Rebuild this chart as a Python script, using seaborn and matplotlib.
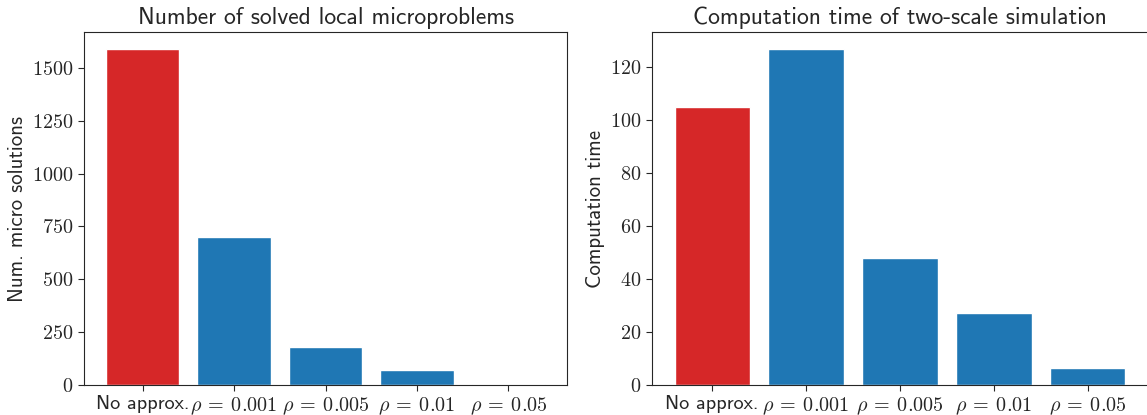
import matplotlib
matplotlib.use("Agg")
import matplotlib.pyplot as plt
import seaborn as sns
import pandas as pd
from matplotlib.ticker import FuncFormatter, MultipleLocator

categories = ["No approx.", r"$\rho\:=\:0.001$", r"$\rho\:=\:0.005$", r"$\rho\:=\:0.01$", r"$\rho\:=\:0.05$"]
num_solutions = [1590, 700, 180, 72, 5]
comp_time = [105.0, 126.8, 47.8, 27.1, 6.4]
bar_colors = ["#d62728", "#1f77b4", "#1f77b4", "#1f77b4", "#1f77b4"]

sns.set_style("ticks")
plt.rcParams["mathtext.fontset"] = "cm"
plt.rcParams["font.family"] = ["cmss10", "DejaVu Sans"]
plt.rcParams["axes.unicode_minus"] = False

df1 = pd.DataFrame({"cat": categories, "val": num_solutions})
df2 = pd.DataFrame({"cat": categories, "val": comp_time})

fig = plt.figure(figsize=(11.47, 4.15), dpi=100)
ax1 = fig.add_axes([84/1147, 1-385/415, 483/1147, 353/415])
ax2 = fig.add_axes([652/1147, 1-385/415, 496/1147, 353/415])

fmt = FuncFormatter(lambda v, p: r"$%d$" % v)

for ax, df, title, ylabel, step in [
    (ax1, df1, "Number of solved local microproblems", "Num. micro solutions", 250),
    (ax2, df2, "Computation time of two-scale simulation", "Computation time", 20),
]:
    sns.barplot(data=df, x="cat", y="val", hue="cat", palette=bar_colors,
                legend=False, ax=ax, width=0.8, saturation=1, dodge=False)
    ax.set_title(title, fontsize=17, pad=6)
    ax.set_ylabel(ylabel, fontsize=15)
    ax.set_xlabel("")
    ax.yaxis.set_major_locator(MultipleLocator(step))
    ax.yaxis.set_major_formatter(fmt)
    ax.tick_params(axis="both", labelsize=14.5, length=4)
    ax.set_xlim(-0.64, 4.64)
    ax.set_ylim(0, max(df["val"]) * 1.05)
    for s in ax.spines.values():
        s.set_visible(True)
        s.set_linewidth(0.8)
    for lab in ax.get_xticklabels():
        lab.set_fontsize(14.5)

fig.savefig("out.png", dpi=100)
